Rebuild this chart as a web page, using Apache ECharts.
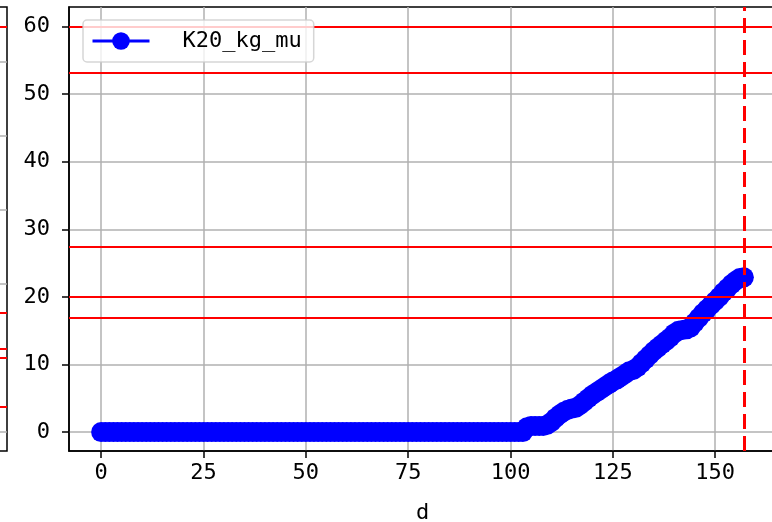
<!DOCTYPE html>
<html>
<head>
<meta charset="utf-8">
<script src="https://cdn.jsdelivr.net/npm/echarts@6/dist/echarts.min.js"></script>
<style>
  html, body { margin: 0; padding: 0; background: #fff; }
  #chart { width: 772px; height: 522px; }
</style>
</head>
<body>
<div id="chart"></div>
<script>
// K20_kg_mu per day (index = day d, starting at 0)
const k20Values = [
  0, 0, 0, 0, 0, 0, 0, 0, 0, 0, 0, 0, 0, 0, 0, 0, 0, 0, 0, 0, 0, 0, 0, 0, 0, 0,
  0, 0, 0, 0, 0, 0, 0, 0, 0, 0, 0, 0, 0, 0, 0, 0, 0, 0, 0, 0, 0, 0, 0, 0, 0, 0,
  0, 0, 0, 0, 0, 0, 0, 0, 0, 0, 0, 0, 0, 0, 0, 0, 0, 0, 0, 0, 0, 0, 0, 0, 0, 0,
  0, 0, 0, 0, 0, 0, 0, 0, 0, 0, 0, 0, 0, 0, 0, 0, 0, 0, 0, 0, 0, 0, 0, 0, 0, 0,
  0.7, 0.9, 0.9, 0.9, 0.9, 1.1,
  1.5, 2.1, 2.6, 3.0, 3.3, 3.5, 3.6, 4.0, 4.5, 5.0,
  5.5, 5.9, 6.3, 6.7, 7.1, 7.5, 7.8, 8.2, 8.6, 9.0,
  9.2, 9.6, 10.2, 10.8, 11.4, 12.0, 12.5, 13.0, 13.5, 14.0,
  14.6, 15.0, 15.1, 15.2, 15.5, 16.2, 16.9, 17.6, 18.2, 18.8,
  19.4, 20.0, 20.7, 21.3, 21.9, 22.4, 22.8, 22.9
];

// red reference lines
const hLines = [60, 53.2, 27.4, 20.0, 16.9];
const vLineDay = 157;

const xTicks = [0, 25, 50, 75, 100, 125, 150];
const yTicks = [0, 10, 20, 30, 40, 50, 60];

// neighbouring subplot, only its right edge shows on the left
const leftTicks = [0, 1, 2, 3, 4, 5];
const leftLines = [5.47, 1.61, 1.12, 1.0, 0.34];

const seriesData = k20Values.map((v, i) => [i, v]);

const font = '"DejaVu Sans Mono", monospace';

const chart = echarts.init(document.getElementById('chart'), null, { renderer: 'canvas' });

const option = {
    animation: false,
    backgroundColor: '#fff',
    grid: [
        {
            left: 69, top: 7, width: 707, height: 444,
            outerBoundsMode: 'none',
            containLabel: false,
            show: true, borderColor: '#000', borderWidth: 1.5, backgroundColor: 'transparent'
        },
        {
            left: -300, top: 7, width: 307, height: 444,
            outerBoundsMode: 'none',
            containLabel: false,
            show: true, borderColor: '#000', borderWidth: 1.5, backgroundColor: 'transparent'
        }
    ],
    legend: {
        data: ['K20_kg_mu'],
        left: 83,
        top: 20,
        orient: 'vertical',
        itemWidth: 57,
        itemHeight: 22,
        padding: [10, 12, 10, 8],
        backgroundColor: 'rgba(255,255,255,0.8)',
        borderColor: 'rgba(204,204,204,0.8)',
        borderWidth: 1.5,
        borderRadius: 4,
        z: 10,
        lineStyle: { width: 3 },
        textStyle: {
            fontFamily: font,
            fontSize: 22,
            color: '#000',
            padding: [0, 0, 0, 28]
        }
    },
    xAxis: [
        {
            type: 'value',
            gridIndex: 0,
            min: -7.85,
            max: 164.85,
            name: 'd',
            nameLocation: 'middle',
            nameGap: 51,
            nameTextStyle: { fontFamily: font, fontSize: 22, color: '#000' },
            axisLine: { onZero: false, lineStyle: { color: '#000', width: 1.5 } },
            axisTick: { show: true, length: 7, customValues: xTicks, lineStyle: { color: '#000', width: 1.5 } },
            axisLabel: { customValues: xTicks, margin: 11, fontFamily: font, fontSize: 22, color: '#000' },
            splitLine: { show: true, lineStyle: { color: '#b0b0b0', width: 1.5 } }
        },
        {
            type: 'value',
            gridIndex: 1,
            min: 0,
            max: 1,
            show: false
        }
    ],
    yAxis: [
        {
            type: 'value',
            gridIndex: 0,
            min: -2.8,
            max: 62.9,
            axisLine: { show: true, onZero: false, lineStyle: { color: '#000', width: 1.5 } },
            axisTick: { show: true, length: 7, customValues: yTicks, lineStyle: { color: '#000', width: 1.5 } },
            axisLabel: { customValues: yTicks, margin: 19, fontFamily: font, fontSize: 22, color: '#000' },
            splitLine: { show: true, lineStyle: { color: '#b0b0b0', width: 1.5 } }
        },
        {
            type: 'value',
            gridIndex: 1,
            min: -0.257,
            max: 5.743,
            axisLine: { show: false },
            axisTick: { show: false, customValues: leftTicks },
            axisLabel: { show: false, customValues: leftTicks },
            splitLine: { show: true, lineStyle: { color: '#b0b0b0', width: 1.5 } }
        }
    ],
    series: [
        {
            name: 'K20_kg_mu',
            type: 'line',
            xAxisIndex: 0,
            yAxisIndex: 0,
            data: seriesData,
            symbol: 'circle',
            symbolSize: 20,
            showSymbol: true,
            itemStyle: { color: '#0000ff' },
            lineStyle: { color: '#0000ff', width: 3 },
            z: 3
        },
        {
            name: 'thresholds',
            type: 'line',
            xAxisIndex: 0,
            yAxisIndex: 0,
            data: [],
            z: 5,
            markLine: {
                silent: true,
                symbol: 'none',
                label: { show: false },
                animation: false,
                data: hLines.map(v => ({ yAxis: v, lineStyle: { color: '#ff0000', width: 2, type: 'solid' } }))
                    .concat([{ xAxis: vLineDay, lineStyle: { color: '#ff0000', width: 3, type: [15, 7] } }])
            }
        },
        {
            name: 'left_thresholds',
            type: 'line',
            xAxisIndex: 1,
            yAxisIndex: 1,
            data: [],
            z: 5,
            markLine: {
                silent: true,
                symbol: 'none',
                label: { show: false },
                animation: false,
                data: leftLines.map(v => ({ yAxis: v, lineStyle: { color: '#ff0000', width: 2, type: 'solid' } }))
            }
        }
    ]
};

chart.setOption(option);
</script>
</body>
</html>
